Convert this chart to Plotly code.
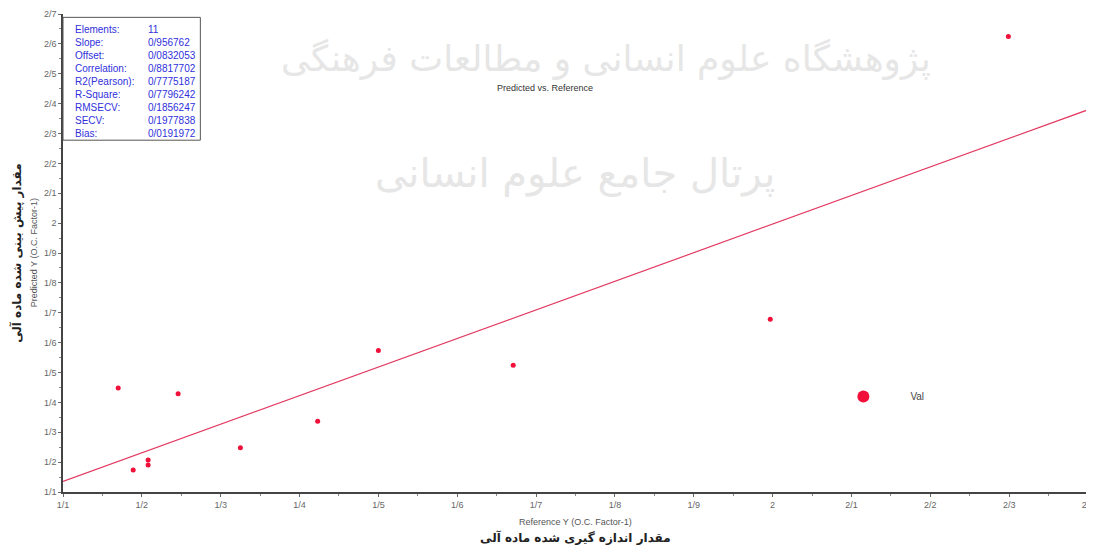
import plotly.graph_objects as go

# ---- data ----
ref_x = [1.17, 1.189, 1.208, 1.208, 1.246, 1.325, 1.423, 1.500, 1.671, 1.997, 2.299]
pred_y = [1.448, 1.174, 1.207, 1.190, 1.429, 1.248, 1.337, 1.574, 1.524, 1.678, 2.625]

slope = 0.956762
offset = 0.0832053
line_x = [1.1, 2.4]

stat_names = ["Elements:", "Slope:", "Offset:", "Correlation:", "R2(Pearson):",
              "R-Square:", "RMSECV:", "SECV:", "Bias:"]
stat_values = ["11", "0/956762", "0/0832053", "0/8817702", "0/7775187",
               "0/7796242", "0/1856247", "0/1977838", "0/0191972"]

x_tickvals = [1.1, 1.2, 1.3, 1.4, 1.5, 1.6, 1.7, 1.8, 1.9, 2.0, 2.1, 2.2, 2.3, 2.4]
x_ticktext = ["1/1", "1/2", "1/3", "1/4", "1/5", "1/6", "1/7", "1/8", "1/9", "2",
              "2/1", "2/2", "2/3", "2/4"]
y_tickvals = [1.1, 1.2, 1.3, 1.4, 1.5, 1.6, 1.7, 1.8, 1.9, 2.0, 2.1, 2.2, 2.3,
              2.4, 2.5, 2.6, 2.7]
y_ticktext = ["1/1", "1/2", "1/3", "1/4", "1/5", "1/6", "1/7", "1/8", "1/9", "2",
              "2/1", "2/2", "2/3", "2/4", "2/5", "2/6", "2/7"]

line_y = [slope * v + offset for v in line_x]

fig = go.Figure()
fig.add_trace(go.Scatter(x=line_x, y=line_y, mode="lines",
                         line=dict(color="#e23a62", width=1.2),
                         showlegend=False, hoverinfo="skip"))
fig.add_trace(go.Scatter(x=ref_x, y=pred_y, mode="markers", name="Val",
                         marker=dict(color="#f0103a", size=5)))

font_main = "Liberation Sans, Arial, sans-serif"
fig.update_layout(
    width=1094, height=540,
    margin=dict(l=55, r=14, t=6, b=56, autoexpand=False),
    paper_bgcolor="white", plot_bgcolor="white",
    font=dict(family=font_main, size=9, color="#555555"),
    legend=dict(x=0.735, y=0.2, xanchor="left", yanchor="middle",
                bgcolor="rgba(0,0,0,0)", font=dict(size=10, color="#444"),
                itemsizing="constant", itemwidth=84),
    showlegend=True,
)
fig.update_xaxes(range=[1.1, 2.4], tickvals=x_tickvals, ticktext=x_ticktext,
                 automargin=False, ticklabeloverflow="allow",
                 showgrid=False, zeroline=False, showline=True,
                 linecolor="#444444", linewidth=1.5, ticks="outside",
                 ticklen=3, tickcolor="#666666",
                 minor=dict(dtick=0.05, ticks="outside", ticklen=2, tickcolor="#888888"),
                 tickfont=dict(size=9, color="#666666"))
fig.update_yaxes(range=[1.1, 2.7], tickvals=y_tickvals, ticktext=y_ticktext,
                 automargin=False, ticklabeloverflow="allow",
                 showgrid=False, zeroline=False, showline=True,
                 linecolor="#444444", linewidth=1.5, ticks="outside",
                 ticklen=3, tickcolor="#666666",
                 minor=dict(dtick=0.05, ticks="outside", ticklen=2, tickcolor="#888888"),
                 tickfont=dict(size=9, color="#666666"))

# watermark
fig.add_annotation(xref="paper", yref="paper", x=0.53, y=0.955,
                   text="پژوهشگاه علوم انسانی و مطالعات فرهنگی", showarrow=False,
                   font=dict(family="DejaVu Sans", size=36, color="#e6e6e6"))
fig.add_annotation(xref="paper", yref="paper", x=0.50, y=0.72,
                   text="پرتال جامع علوم انسانی", showarrow=False,
                   font=dict(family="DejaVu Sans", size=40, color="#e6e6e6"))

# title
fig.add_annotation(xref="paper", yref="paper", x=0.47, y=0.86,
                   text="Predicted vs. Reference", showarrow=False,
                   font=dict(family=font_main, size=9, color="#333333"))

# stats box
fig.add_shape(type="rect", xref="paper", yref="paper", x0=0, x1=0.134,
              y0=0.736, y1=0.993, line=dict(color="#555555", width=1),
              fillcolor="rgba(255,255,255,0)")
fig.add_annotation(xref="paper", yref="paper", x=0.010, y=0.984,
                   xanchor="left", yanchor="top", align="left",
                   text="<br>".join(stat_names), showarrow=False,
                   font=dict(family=font_main, size=10, color="#3030dc"))
fig.add_annotation(xref="paper", yref="paper", x=0.081, y=0.984,
                   xanchor="left", yanchor="top", align="left",
                   text="<br>".join(stat_values), showarrow=False,
                   font=dict(family=font_main, size=10, color="#3030dc"))

# axis titles
fig.add_annotation(xref="paper", yref="paper", x=0.5, y=-0.048,
                   yanchor="top", text="Reference Y (O.C. Factor-1)", showarrow=False,
                   font=dict(family=font_main, size=9, color="#555555"))
fig.add_annotation(xref="paper", yref="paper", x=0.5, y=-0.076,
                   yanchor="top", text="<b>مقدار اندازه گیری شده ماده آلی</b>", showarrow=False,
                   font=dict(family="DejaVu Sans", size=12, color="#222222"))
fig.add_annotation(xref="paper", yref="paper", x=-0.028, y=0.5,
                   xanchor="center", text="Predicted Y (O.C. Factor-1)", showarrow=False,
                   textangle=-90, font=dict(family=font_main, size=9, color="#555555"))
fig.add_annotation(xref="paper", yref="paper", x=-0.046, y=0.5,
                   xanchor="center", text="<b>مقدار پیش بینی شده ماده آلی</b>", showarrow=False,
                   textangle=-90, font=dict(family="DejaVu Sans", size=12, color="#222222"))

fig.write_html("out.html")
